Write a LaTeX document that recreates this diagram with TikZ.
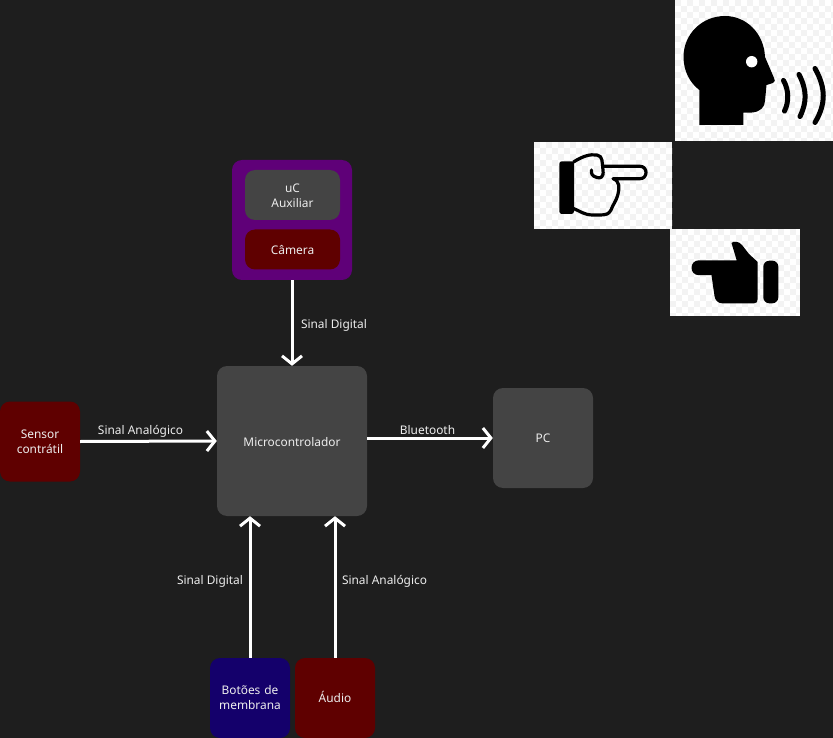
\documentclass[tikz,border=0pt]{standalone}
\usepackage{fontspec}
\setmainfont{Noto Sans}
\usetikzlibrary{arrows.meta}
\definecolor{bgc}{HTML}{1E1E1E}
\definecolor{greyc}{HTML}{444444}
\definecolor{redc}{HTML}{5F0000}
\definecolor{navyc}{HTML}{14006B}
\definecolor{purplec}{HTML}{5F0078}
\definecolor{txtc}{HTML}{EDEDED}
\definecolor{checkc}{HTML}{F3F3F3}
\newcommand{\checkerbox}[4]{%
  \fill[white] (#1,#2) rectangle (#3,#4);
  \begin{scope}
    \clip (#1,#2) rectangle (#3,#4);
    \foreach \ky in {0,...,12}{
      \pgfmathsetmacro{\yy}{#2+3+6*\ky*2}
      \pgfmathsetmacro{\yz}{#2+9+6*\ky*2}
      \draw[checkc,line width=6pt,dash pattern=on 6pt off 6pt] (#1,\yy) -- (#3,\yy);
      \draw[checkc,line width=6pt,dash pattern=on 6pt off 6pt,dash phase=6pt] (#1,\yz) -- (#3,\yz);
    }
  \end{scope}}
\newcommand{\nudge}[2]{\raisebox{#1}[\height][\depth]{#2}}
\tikzset{
  box/.style={rounded corners=10pt,inner sep=0pt,align=center,text=txtc,font=\fontsize{11.9}{15}\selectfont,text width=#1},
  box/.default=70pt,
  lbl/.style={text=txtc,font=\fontsize{11.9}{14}\selectfont,inner sep=0pt,anchor=base},
  conn/.style={white,line width=3pt,-{Straight Barb[length=8pt,width=20pt,line width=3pt]}}
}
\begin{document}
\begin{tikzpicture}[x=1pt,y=-1pt]
\useasboundingbox (0,0) rectangle (833,738);
\fill[bgc] (0,0) rectangle (833,738);
% pictures
\checkerbox{675}{0}{833}{141}
\checkerbox{534}{142}{672}{229}
\checkerbox{670}{229}{800}{315.7}
% speaking head
\fill[black] (699.3,125) -- (743.3,125) -- (743.3,112.7) -- (752,112.5)
  .. controls (760,112) and (765,107) .. (765,101)
  -- (766.5,85) -- (773,83) .. controls (775.5,82) and (775,80) .. (774,78)
  -- (765,57) .. controls (764,33) and (746,16) .. (725,16)
  .. controls (702,16) and (683.5,34) .. (683.5,57)
  .. controls (683.5,71) and (690,83) .. (699.3,90) -- cycle;
\fill[white] (751.7,61.7) circle (5.7);
\draw[black,line width=5pt,line cap=round] (783.5,80.5) .. controls (789,90) and (789,102) .. (784.5,111);
\draw[black,line width=5pt,line cap=round] (799,74.5) .. controls (807,90) and (807,102) .. (800,116.5);
\draw[black,line width=5pt,line cap=round] (815,68.5) .. controls (826,88) and (826,104) .. (815,122.5);
% outlined hand
\fill[black,rounded corners=2.5pt] (559.3,161.3) rectangle (574,214);
\draw[black,line width=3.2pt,line cap=round,line join=round]
  (573.5,162) .. controls (583,156) and (590,154) .. (597,155)
  .. controls (603,156) and (602,162) .. (603,170)
  .. controls (604,178) and (600,178.5) .. (597,177.5)
  .. controls (592,176) and (591,174) .. (591.5,170);
\draw[black,line width=3.2pt,line cap=round,line join=round]
  (604,166.3) -- (640,166.3) .. controls (648,166.3) and (648,178.7) .. (640,178.7)
  -- (613,178.7) .. controls (620,181) and (619.5,188) .. (618,194)
  .. controls (616,202) and (613,204) .. (611,210)
  .. controls (609,214) and (606,215) .. (600,215)
  -- (593,215) .. controls (584,215) and (580,211) .. (573.5,208.5);
% solid hand
\fill[black,rounded corners=6pt] (763.3,260.7) rectangle (778.3,303.3);
\fill[black] (731.5,243) .. controls (733,241) and (739,241) .. (742,245)
  -- (749,254) -- (757.7,262) -- (757.7,299) .. controls (757.7,302) and (756.5,303.3) .. (754,303.3)
  -- (722,303.3) .. controls (718,303.3) and (715,300) .. (714.5,296)
  -- (711.5,275.2) -- (699,275.2) .. controls (689,275.2) and (689,260.3) .. (699,260.3)
  -- (736.7,260.3) -- cycle;
% boxes
\node[box=120pt,fill=purplec,minimum width=120pt,minimum height=120pt] (grp) at (292,220) {};
\node[box=95pt,fill=greyc,minimum width=95pt,minimum height=50pt] (uc) at (292.5,195) {\nudge{-1pt}{uC}\\\nudge{-1pt}{Auxiliar}};
\node[box=95pt,fill=redc,minimum width=95pt,minimum height=40pt] (cam) at (292.5,249.5) {\nudge{-1pt}{Câmera}};
\node[box=150pt,fill=greyc,minimum width=150pt,minimum height=150pt] (mc) at (292,441) {\nudge{-1pt}{Microcontrolador}};
\node[box=80pt,fill=redc,minimum width=80pt,minimum height=80pt] (sen) at (40,441.5) {Sensor\\contrátil};
\node[box=100pt,fill=greyc,minimum width=100pt,minimum height=100pt] (pc) at (543,438) {PC};
\node[box=80pt,fill=navyc,minimum width=80pt,minimum height=80pt] (bot) at (250,698) {Botões de\\membrana};
\node[box=80pt,fill=redc,minimum width=80pt,minimum height=80pt] (aud) at (335,698) {\nudge{1pt}{Áudio}};
% connectors
\draw[conn] (grp.south) -- (mc.north);
\draw[conn] (sen.east) -- (mc.west);
\draw[conn] (mc.east |- pc.west) -- (pc.west);
\draw[conn] (bot.north) -- (bot.north |- mc.south);
\draw[conn] (aud.north) -- (aud.north |- mc.south);
% labels
\node[lbl] (l1) at (334,328.3) {Sinal Digital};
\node[lbl] (l2) at (140.5,434.3) {Sinal Analógico};
\node[lbl] (l3) at (427.5,434.3) {Bluetooth};
\node[lbl] (l4) at (210,584.3) {Sinal Digital};
\node[lbl] (l5) at (384.5,584.3) {Sinal Analógico};
\end{tikzpicture}
\end{document}
